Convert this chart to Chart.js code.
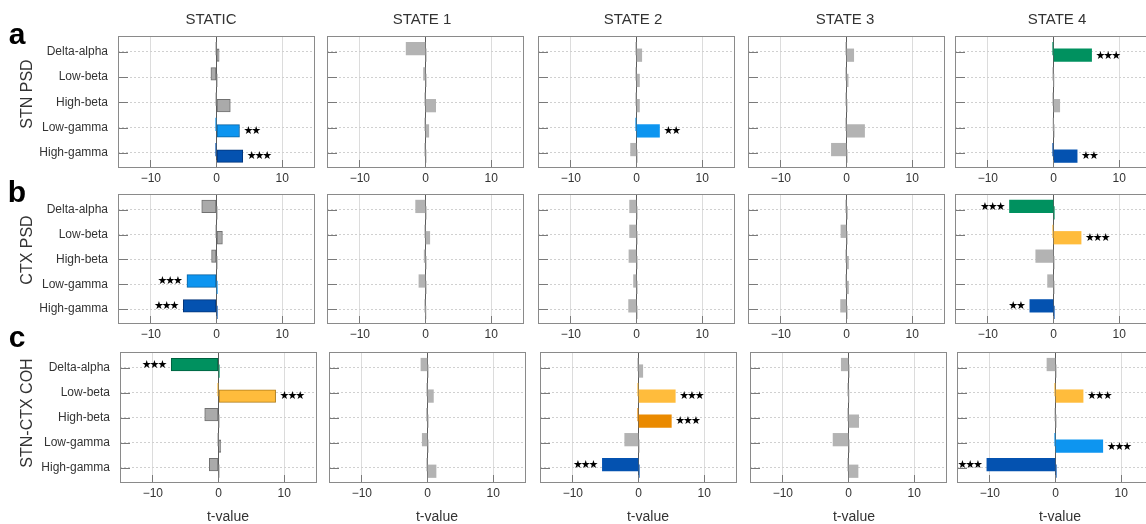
<!DOCTYPE html>
<html>
<head>
<meta charset="utf-8">
<script src="https://cdn.jsdelivr.net/npm/chart.js@4.4.1/dist/chart.umd.min.js"></script>
<style>
  html, body { margin: 0; padding: 0; background: #fff; }
  body { width: 1146px; height: 524px; overflow: hidden; position: relative;
         font-family: "Liberation Sans", Arial, Helvetica, sans-serif; }
  canvas { position: absolute; }
  .lbl { position: absolute; color: #333; white-space: nowrap; line-height: 1;
         transform: translate(-50%, -50%); }
  .rot { transform: translate(-50%, -50%) rotate(-90deg); }
  .letter { font-weight: bold; font-size: 30px; color: #000; }
</style>
</head>
<body>
<script>
// ---- categories and labels ----
const BANDS = ['Delta-alpha', 'Low-beta', 'High-beta', 'Low-gamma', 'High-gamma'];
const STATES = ['STATIC', 'STATE 1', 'STATE 2', 'STATE 3', 'STATE 4'];
const MEASURES = ['STN PSD', 'CTX PSD', 'STN-CTX COH'];
const PANEL_LETTERS = ['a', 'b', 'c'];
const X_TICKS = [-10, 0, 10];
const X_TITLE = 't-value';

// ---- t-values: one row per state, one entry per band ----
const STN_PSD_T = [
  [0.4, -0.85, 2.1, 3.5, 4.0],
  [-2.95, -0.3, 1.55, 0.5, 0.1],
  [0.8, 0.45, 0.45, 3.5, -0.9],
  [1.1, 0.25, 0.1, 2.75, -2.3],
  [5.8, 0.05, 0.95, -0.05, 3.6]
];
const CTX_PSD_T = [
  [-2.25, 0.9, -0.75, -4.5, -5.05],
  [-1.5, 0.65, -0.2, -1.0, 0.05],
  [-1.05, -1.05, -1.15, -0.45, -1.2],
  [0.15, -0.85, 0.3, 0.3, -0.9],
  [-6.7, 4.2, -2.7, -0.9, -3.6]
];
const COH_T = [
  [-7.2, 8.7, -2.1, 0.35, -1.4],
  [-1.0, 0.9, -0.15, -0.8, 1.3],
  [0.65, 5.6, 5.0, -2.1, -5.5],
  [-1.1, 0.05, 1.55, -2.35, 1.45],
  [-1.3, 4.2, -0.1, 7.2, -10.45]
];

// ---- significance (number of stars) ----
const STN_PSD_SIG = [[0,0,0,2,3],[0,0,0,0,0],[0,0,0,2,0],[0,0,0,0,0],[3,0,0,0,2]];
const CTX_PSD_SIG = [[0,0,0,3,3],[0,0,0,0,0],[0,0,0,0,0],[0,0,0,0,0],[3,3,0,0,2]];
const COH_SIG     = [[3,3,0,0,0],[0,0,0,0,0],[0,3,3,0,3],[0,0,0,0,0],[0,3,0,3,3]];

const T_VALUES = [STN_PSD_T, CTX_PSD_T, COH_T];
const SIGNIF = [STN_PSD_SIG, CTX_PSD_SIG, COH_SIG];

// ---- styling ----
const BAND_COLORS = ['#00915f', '#ffbc3c', '#ea8a00', '#0d95f0', '#0452b0'];
const BAND_EDGES  = ['#00603f', '#b07d18', '#9c5c00', '#0a62a0', '#02347a'];
const GRAY = '#b3b3b3', GRAY_STATIC = '#aaaaaa', GRAY_EDGE = '#707070';

// ---- layout (px) ----
const PANEL_L = [118, 327, 538, 748, 955];
const PANEL_W = 197;
const ROW_T = [36, 194, 352];
const ROW_H = [132, 130, 131];
const ROW_DX = [0, 0, 1.5];
const Y_AXIS_W = 110, X_AXIS_H = 20, PAD = 12, PAD_T = 22;
const TITLE_X = [211, 422, 633, 845, 1057];
const XTITLE_X = [228, 437, 648, 854, 1060];
const SHIFT = 0.13;   // bars sit just above (negative) or below (positive) the band line
const STUB = 0.12;    // thin sibling bar at zero
const BAR_PX = 12.6;

function addLabel(text, x, y, size, extra) {
  const d = document.createElement('div');
  d.className = 'lbl' + (extra ? ' ' + extra : '');
  d.textContent = text;
  d.style.left = x + 'px';
  d.style.top = y + 'px';
  d.style.fontSize = size + 'px';
  document.body.appendChild(d);
}

// frame, inward ticks and significance stars
const panelDecor = {
  id: 'panelDecor',
  afterDatasetsDraw(chart, args, opts) {
    const { ctx } = chart;
    const meta = chart.getDatasetMeta(1);
    ctx.save();
    ctx.fillStyle = '#000';
    ctx.font = '11px "DejaVu Sans"';
    ctx.textBaseline = 'middle';
    ctx.textAlign = 'center';
    meta.data.forEach((bar, i) => {
      const n = opts.sig[i];
      if (!n) return;
      const neg = opts.vals[i] < 0;
      const step = 7.8, gap = 5;
      for (let k = 0; k < n; k++) {
        const cx = neg ? bar.x - gap - step / 2 - k * step : bar.x + gap + step / 2 + k * step;
        ctx.fillText('\u2605', cx, bar.y + 0.5);
      }
    });
    ctx.restore();
  },
  afterDraw(chart) {
    const { ctx, chartArea: a, scales: { x, y } } = chart;
    ctx.save();
    ctx.strokeStyle = '#7a7a7a';
    ctx.lineWidth = 1;
    ctx.beginPath();
    y.ticks.forEach(t => {
      const py = Math.round(y.getPixelForValue(t.value)) + 0.5;
      ctx.moveTo(a.left, py); ctx.lineTo(a.left + 10, py);
    });
    X_TICKS.forEach(v => {
      const px = Math.floor(x.getPixelForValue(v)) + 0.5;
      ctx.moveTo(px, a.bottom); ctx.lineTo(px, a.bottom - 8);
    });
    ctx.stroke();
    ctx.strokeStyle = '#8a8a8a';
    ctx.strokeRect(a.left + 0.5, a.top + 0.5, a.right - a.left - 1, a.bottom - a.top - 1);
    ctx.restore();
  }
};

function makePanel(r, c) {
  const vals = T_VALUES[r][c];
  const sig = SIGNIF[r][c];
  const isStatic = c === 0;
  const left = Math.round(PANEL_L[c] + ROW_DX[r]);
  const yW = isStatic ? Y_AXIS_W : 0;
  const w = PAD + yW + PANEL_W + PAD;
  const h = PAD_T + ROW_H[r] + X_AXIS_H + PAD;
  const cv = document.createElement('canvas');
  cv.width = w; cv.height = h;
  cv.style.width = w + 'px'; cv.style.height = h + 'px';
  cv.style.left = (left - yW - PAD) + 'px';
  cv.style.top = (ROW_T[r] - PAD_T) + 'px';
  document.body.appendChild(cv);

  const fill = vals.map((v, i) => sig[i] ? BAND_COLORS[i] : (isStatic ? GRAY_STATIC : GRAY));
  const edge = vals.map((v, i) => isStatic ? (sig[i] ? BAND_EDGES[i] : GRAY_EDGE) : fill[i]);

  new Chart(cv, {
    type: 'bar',
    data: {
      datasets: [
        {
          data: vals.map((v, i) => ({ x: v < 0 ? STUB : -STUB, y: i + (v < 0 ? SHIFT : -SHIFT) })),
          backgroundColor: fill, borderWidth: 0,
          barThickness: BAR_PX, grouped: false
        },
        {
          data: vals.map((v, i) => ({ x: v, y: i + (v < 0 ? -SHIFT : SHIFT) })),
          backgroundColor: fill, borderColor: edge,
          borderWidth: isStatic ? 1 : 0, borderSkipped: false,
          barThickness: BAR_PX, grouped: false
        }
      ]
    },
    options: {
      indexAxis: 'y',
      responsive: false,
      animation: false,
      devicePixelRatio: 1,
      layout: { padding: { left: PAD, right: PAD, top: PAD_T, bottom: PAD } },
      plugins: {
        legend: { display: false },
        tooltip: { enabled: false },
        panelDecor: { vals, sig }
      },
      scales: {
        x: {
          type: 'linear', min: -15, max: 15, offset: false,
          afterBuildTicks: s => { s.ticks = X_TICKS.map(v => ({ value: v })); },
          afterFit: s => { s.height = X_AXIS_H; },
          ticks: {
            padding: 3, color: '#333',
            font: { family: '"Liberation Sans", Arial, sans-serif', size: 12 },
            callback: v => v < 0 ? '\u2212' + Math.abs(v) : String(v)
          },
          grid: {
            drawTicks: false, lineWidth: 1, offset: false,
            color: ctx => (ctx.tick && ctx.tick.value === 0) ? '#5a5a5a' : '#dcdcdc'
          },
          border: { display: false }
        },
        y: {
          type: 'linear', reverse: true, min: -0.63, max: 4.6, offset: false,
          afterBuildTicks: s => { s.ticks = BANDS.map((b, i) => ({ value: i })); },
          afterFit: s => { s.width = yW; },
          ticks: {
            display: isStatic, padding: 10, color: '#333',
            font: { family: '"Liberation Sans", Arial, sans-serif', size: 12 },
            callback: v => BANDS[v]
          },
          grid: { drawTicks: false, offset: false, color: '#d0d0d0', lineWidth: 1 },
          border: { display: false, dash: [2, 2] }
        }
      }
    },
    plugins: [panelDecor]
  });
}

for (let r = 0; r < MEASURES.length; r++) {
  for (let c = 0; c < STATES.length; c++) makePanel(r, c);
}

// column titles, row titles, panel letters, axis titles
STATES.forEach((s, c) => addLabel(s, TITLE_X[c], 18, 15));
const ROW_LABEL_Y = [94, 250, 413];
MEASURES.forEach((m, r) => addLabel(m, 27, ROW_LABEL_Y[r], 16, 'rot'));
const LETTER_Y = [33.5, 191.5, 336.5];
PANEL_LETTERS.forEach((l, r) => addLabel(l, 17, LETTER_Y[r], 30, 'letter'));
XTITLE_X.forEach(x => addLabel(X_TITLE, x, 516, 14));
</script>
</body>
</html>
